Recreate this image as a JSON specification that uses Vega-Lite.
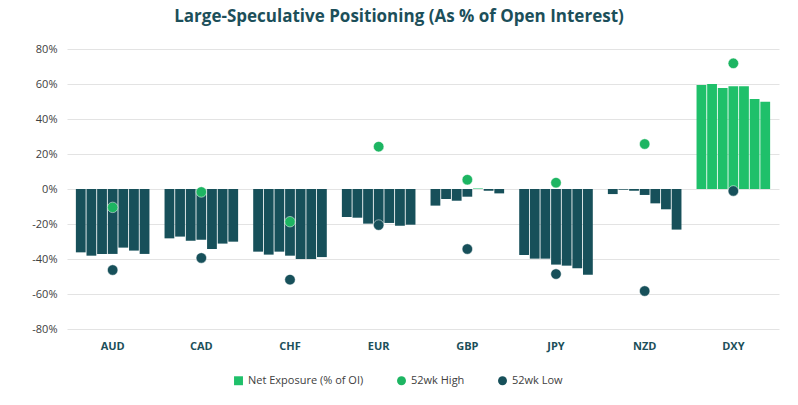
{
  "$schema": "https://vega.github.io/schema/vega-lite/v6.json",
  "background": "white",
  "autosize": {"type": "none"},
  "padding": {"left": 67, "top": 49, "right": 19, "bottom": 76},
  "width": 712,
  "height": 280,
  "title": {
    "text": "Large-Speculative Positioning (As % of Open Interest)",
    "font": "Open Sans",
    "fontSize": 17,
    "fontWeight": "bold",
    "color": "#1c4f5a",
    "offset": 17,
    "dx": -24
  },
  "config": {
    "view": {"stroke": null},
    "font": "Open Sans"
  },
  "datasets": {
    "bars": [
      {"ccy": "AUD", "wk": 1, "value": -36.2}, {"ccy": "AUD", "wk": 2, "value": -38.1}, {"ccy": "AUD", "wk": 3, "value": -37.1}, {"ccy": "AUD", "wk": 4, "value": -37.1}, {"ccy": "AUD", "wk": 5, "value": -33.5}, {"ccy": "AUD", "wk": 6, "value": -35.2}, {"ccy": "AUD", "wk": 7, "value": -37.1},
      {"ccy": "CAD", "wk": 1, "value": -28.2}, {"ccy": "CAD", "wk": 2, "value": -27.2}, {"ccy": "CAD", "wk": 3, "value": -29.5}, {"ccy": "CAD", "wk": 4, "value": -29.0}, {"ccy": "CAD", "wk": 5, "value": -34.3}, {"ccy": "CAD", "wk": 6, "value": -31.2}, {"ccy": "CAD", "wk": 7, "value": -30.1},
      {"ccy": "CHF", "wk": 1, "value": -35.8}, {"ccy": "CHF", "wk": 2, "value": -37.5}, {"ccy": "CHF", "wk": 3, "value": -35.8}, {"ccy": "CHF", "wk": 4, "value": -38.1}, {"ccy": "CHF", "wk": 5, "value": -40.0}, {"ccy": "CHF", "wk": 6, "value": -40.0}, {"ccy": "CHF", "wk": 7, "value": -38.9},
      {"ccy": "EUR", "wk": 1, "value": -16.0}, {"ccy": "EUR", "wk": 2, "value": -16.4}, {"ccy": "EUR", "wk": 3, "value": -19.8}, {"ccy": "EUR", "wk": 4, "value": -21.0}, {"ccy": "EUR", "wk": 5, "value": -19.4}, {"ccy": "EUR", "wk": 6, "value": -21.0}, {"ccy": "EUR", "wk": 7, "value": -20.4},
      {"ccy": "GBP", "wk": 1, "value": -9.5}, {"ccy": "GBP", "wk": 2, "value": -5.7}, {"ccy": "GBP", "wk": 3, "value": -6.7}, {"ccy": "GBP", "wk": 4, "value": -4.4}, {"ccy": "GBP", "wk": 5, "value": 0.3}, {"ccy": "GBP", "wk": 6, "value": -1.0}, {"ccy": "GBP", "wk": 7, "value": -2.5},
      {"ccy": "JPY", "wk": 1, "value": -37.7}, {"ccy": "JPY", "wk": 2, "value": -39.8}, {"ccy": "JPY", "wk": 3, "value": -39.8}, {"ccy": "JPY", "wk": 4, "value": -43.2}, {"ccy": "JPY", "wk": 5, "value": -43.8}, {"ccy": "JPY", "wk": 6, "value": -45.3}, {"ccy": "JPY", "wk": 7, "value": -49.0},
      {"ccy": "NZD", "wk": 1, "value": -2.9}, {"ccy": "NZD", "wk": 2, "value": -0.4}, {"ccy": "NZD", "wk": 3, "value": -1.0}, {"ccy": "NZD", "wk": 4, "value": -3.4}, {"ccy": "NZD", "wk": 5, "value": -8.2}, {"ccy": "NZD", "wk": 6, "value": -11.6}, {"ccy": "NZD", "wk": 7, "value": -23.2},
      {"ccy": "DXY", "wk": 1, "value": 59.4}, {"ccy": "DXY", "wk": 2, "value": 60.0}, {"ccy": "DXY", "wk": 3, "value": 57.7}, {"ccy": "DXY", "wk": 4, "value": 58.7}, {"ccy": "DXY", "wk": 5, "value": 58.7}, {"ccy": "DXY", "wk": 6, "value": 51.4}, {"ccy": "DXY", "wk": 7, "value": 49.9}
    ],
    "points": [
      {"ccy": "AUD", "series": "52wk High", "value": -10.5}, {"ccy": "AUD", "series": "52wk Low", "value": -46.3},
      {"ccy": "CAD", "series": "52wk High", "value": -1.7}, {"ccy": "CAD", "series": "52wk Low", "value": -39.4},
      {"ccy": "CHF", "series": "52wk High", "value": -18.7}, {"ccy": "CHF", "series": "52wk Low", "value": -51.8},
      {"ccy": "EUR", "series": "52wk High", "value": 24.2}, {"ccy": "EUR", "series": "52wk Low", "value": -20.6},
      {"ccy": "GBP", "series": "52wk High", "value": 5.3}, {"ccy": "GBP", "series": "52wk Low", "value": -34.3},
      {"ccy": "JPY", "series": "52wk High", "value": 3.6}, {"ccy": "JPY", "series": "52wk Low", "value": -48.6},
      {"ccy": "NZD", "series": "52wk High", "value": 25.7}, {"ccy": "NZD", "series": "52wk Low", "value": -58.3},
      {"ccy": "DXY", "series": "52wk High", "value": 71.8}, {"ccy": "DXY", "series": "52wk Low", "value": -1.1}
    ]
  },
  "encoding": {
    "x": {
      "field": "ccy",
      "type": "nominal",
      "sort": ["AUD", "CAD", "CHF", "EUR", "GBP", "JPY", "NZD", "DXY"],
      "scale": {"paddingInner": 0.17, "paddingOuter": 0.1},
      "axis": {
        "title": null,
        "labelAngle": 0,
        "domain": false,
        "ticks": false,
        "labelPadding": 11,
        "labelFontSize": 11,
        "labelFontWeight": "bold",
        "labelColor": "#1c4f5a"
      }
    },
    "y": {
      "field": "value",
      "type": "quantitative",
      "scale": {"domain": [-80, 80]},
      "axis": {
        "title": null,
        "values": [-80, -60, -40, -20, 0, 20, 40, 60, 80],
        "labelExpr": "datum.value + '%'",
        "domain": false,
        "ticks": false,
        "labelPadding": 10,
        "labelFontSize": 11,
        "labelColor": "#404040",
        "gridColor": "#e3e3e3"
      }
    }
  },
  "layer": [
    {
      "data": {"name": "bars"},
      "mark": {"type": "bar"},
      "encoding": {
        "xOffset": {"field": "wk", "type": "ordinal", "scale": {"paddingInner": 0.08}},
        "color": {
          "condition": {"test": "datum.value < 0", "value": "#17505a"},
          "value": "#1fc06a"
        }
      }
    },
    {
      "data": {"name": "points"},
      "mark": {"type": "point", "filled": true, "opacity": 1, "size": 110, "stroke": "#ffffff", "strokeWidth": 0.5},
      "encoding": {
        "color": {
          "field": "series",
          "type": "nominal",
          "scale": {
            "domain": ["Net Exposure (% of OI)", "52wk High", "52wk Low"],
            "range": ["#1fc06a", "#1db562", "#17505a"]
          },
          "legend": {
            "title": null,
            "orient": "none",
            "legendX": 166,
            "legendY": 326,
            "direction": "horizontal",
            "labelFontSize": 11,
            "labelColor": "#404040",
            "symbolSize": 80,
            "columnPadding": 32,
            "symbolStrokeWidth": 0
          }
        },
        "shape": {
          "field": "series",
          "type": "nominal",
          "scale": {
            "domain": ["Net Exposure (% of OI)", "52wk High", "52wk Low"],
            "range": ["square", "circle", "circle"]
          },
          "legend": {
            "title": null,
            "orient": "none",
            "legendX": 166,
            "legendY": 326,
            "direction": "horizontal",
            "labelFontSize": 11,
            "labelColor": "#404040",
            "symbolSize": 80,
            "columnPadding": 32,
            "symbolStrokeWidth": 0
          }
        }
      }
    }
  ]
}
